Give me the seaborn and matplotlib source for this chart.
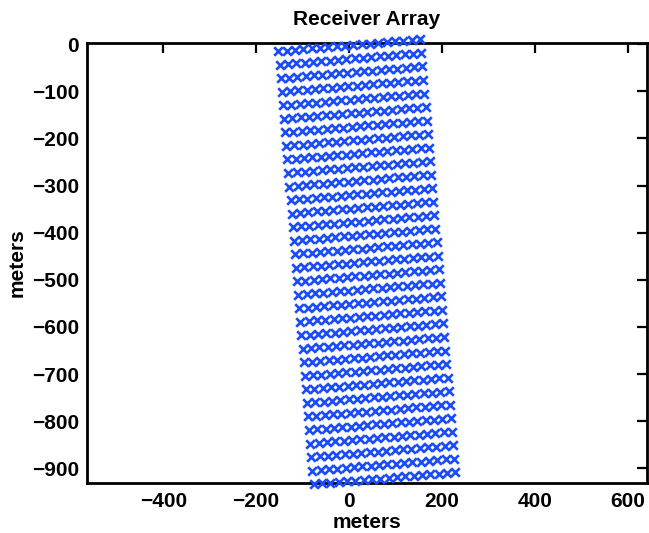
import numpy as np
import pandas as pd
import matplotlib
matplotlib.use("Agg")
import matplotlib.pyplot as plt
import seaborn as sns

# Receiver grid
inline_offsets = [0, 18, 36, 54, 72, 90, 108, 126, 144, 162, 180, 198, 216, 234, 252, 270, 288, 306]
crossline_offsets = [0, 28.8, 57.6, 86.4, 115.2, 144, 172.8, 201.6, 230.4, 259.2, 288, 316.8,
                     345.6, 374.4, 403.2, 432, 460.8, 489.6, 518.4, 547.2, 576, 604.8, 633.6,
                     662.4, 691.2, 720, 748.8, 777.6, 806.4, 835.2, 864, 892.8, 921.6]
origin = (-152.0, -15.0)     # top-left receiver (m)
rotation_deg = 4.7           # counter-clockwise rotation of the array

xticks = [-400, -200, 0, 200, 400, 600]
yticks = [0, -100, -200, -300, -400, -500, -600, -700, -800, -900]

th = np.deg2rad(rotation_deg)
U, V = np.meshgrid(inline_offsets, crossline_offsets)
xs = origin[0] + U * np.cos(th) + V * np.sin(th)
ys = origin[1] + U * np.sin(th) - V * np.cos(th)
df = pd.DataFrame({"x": xs.ravel(), "y": ys.ravel()})

sns.set_theme(style="white")
plt.rcParams['font.family'] = ['Liberation Sans', 'DejaVu Sans']
plt.rcParams['axes.unicode_minus'] = True
plt.rcParams['text.color'] = 'black'
plt.rcParams['axes.labelcolor'] = 'black'

fig = plt.figure(figsize=(6.49, 5.33), dpi=100)
ax = fig.add_axes([0.1345, 0.0932, 0.9965 - 0.1345, 0.920 - 0.0932])

sns.scatterplot(data=df, x="x", y="y", marker="x", s=38, linewidth=1.9,
                color="#1a4cff", ax=ax, legend=False, zorder=5)
for coll in ax.collections:
    coll.set_clip_on(False)

ax.set_xlim(-563.6, 640.9)
ax.set_ylim(-931.8, 3.2)
ax.set_xticks(xticks)
ax.set_yticks(yticks)
ax.tick_params(direction="in", length=7, width=1.6, top=True, right=True,
               labelsize=15, pad=6, colors="black")
for lab in ax.get_xticklabels() + ax.get_yticklabels():
    lab.set_fontweight("bold")
for sp in ax.spines.values():
    sp.set_linewidth(2.0)
    sp.set_color("black")
    sp.set_zorder(4)

ax.set_xlabel("meters", fontsize=15, fontweight="bold", labelpad=2, color="black")
ax.set_ylabel("meters", fontsize=15, fontweight="bold", labelpad=4, color="black")
ax.set_title("Receiver Array", fontsize=15, fontweight="bold", pad=13, color="black")
ax.grid(False)

fig.savefig("out.png", dpi=100)
